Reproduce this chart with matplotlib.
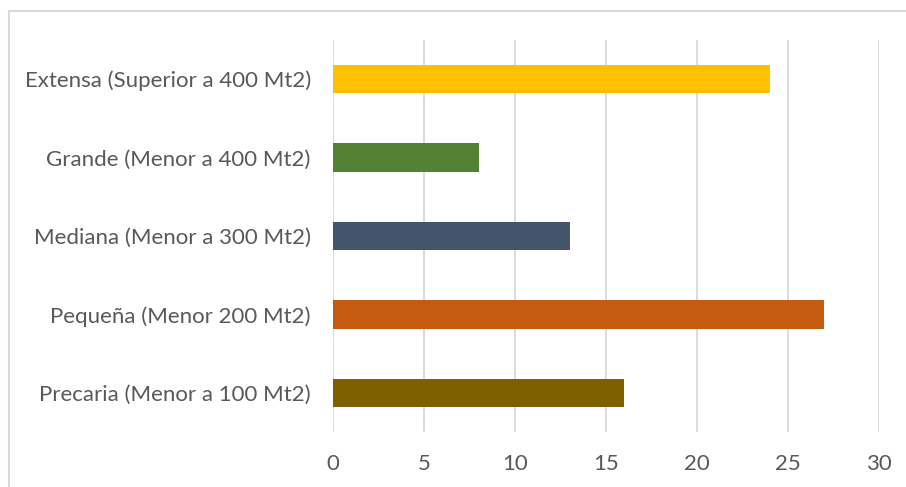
import matplotlib
matplotlib.use("Agg")
from matplotlib import pyplot as plt
from matplotlib.patches import Rectangle

categories = [
    "Precaria (Menor a 100 Mt2)",
    "Pequeña (Menor 200 Mt2)",
    "Mediana (Menor a 300 Mt2)",
    "Grande (Menor a 400 Mt2)",
    "Extensa (Superior a 400 Mt2)",
]
values = [16, 27, 13, 8, 24]
colors = ["#7f6000", "#c55a11", "#44546a", "#548235", "#ffc000"]
xticks = [0, 5, 10, 15, 20, 25, 30]

plt.rcParams['font.family'] = ['Lato', 'DejaVu Sans']

fig = plt.figure(figsize=(9.06, 4.87), dpi=100)
ax = fig.add_axes([333 / 906, 1 - 432 / 487, 546 / 906, 392 / 487])

ax.barh(range(len(categories)), values, height=0.36, color=colors, zorder=3)
ax.set_ylim(-0.5, len(categories) - 0.5)
ax.set_xlim(0, 30)
ax.set_xticks(xticks)
ax.set_yticks(range(len(categories)))
ax.set_yticklabels(categories)

ax.grid(axis='x', color='#d9d9d9', linewidth=1.3, zorder=0)
for s in ax.spines.values():
    s.set_visible(False)
ax.tick_params(axis='both', length=0, labelsize=16, colors='#595959')
ax.tick_params(axis='x', pad=16)
ax.tick_params(axis='y', pad=16)

# outer chart border
fig.patches.append(Rectangle((9 / 906, -0.1), 1.0, 1 - 11 / 487 + 0.1,
                             transform=fig.transFigure, fill=False,
                             edgecolor='#d9d9d9', linewidth=1.5))

fig.savefig("out.png")
